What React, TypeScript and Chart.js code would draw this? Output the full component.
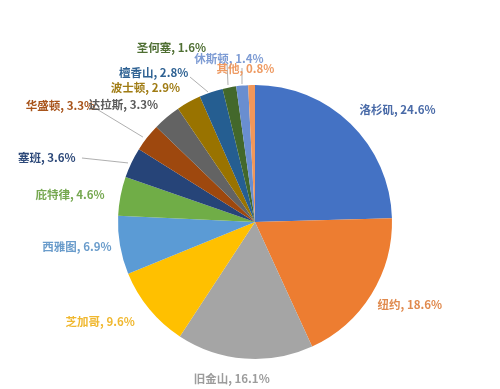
import React, { useEffect, useRef } from "react";
import { Chart, registerables } from "chart.js";

Chart.register(...registerables);

const cities = ["洛杉矶", "纽约", "旧金山", "芝加哥", "西雅图", "庇特律", "塞班", "华盛顿", "达拉斯", "波士顿", "檀香山", "圣何塞", "休斯顿", "其他"];
const shares = [24.6, 18.6, 16.1, 9.6, 6.9, 4.6, 3.6, 3.3, 3.3, 2.9, 2.8, 1.6, 1.4, 0.8];
const sliceColors = ["#4472C4", "#ED7D31", "#A5A5A5", "#FFC000", "#5B9BD5", "#70AD47", "#264478", "#9E480E", "#636363", "#997300", "#255E91", "#43682B", "#698ED0", "#F1975A"];
const textColors = ["#4A6BA8", "#E08A4E", "#9C9C9C", "#F0B830", "#6A9CCB", "#76A851", "#2E4A7A", "#A8541B", "#5A5A5A", "#A07C14", "#2F6293", "#4F6F33", "#7E9CD4", "#EE9A62"];
// label centre offsets, in units of pie radius from pie centre
const labelOffsets: [number, number][] = [
  [1.04, -0.82], [1.13, 0.6], [-0.17, 1.14], [-1.13, 0.73], [-1.3, 0.18], [-1.35, -0.2],
  [-1.52, -0.47], [-1.42, -0.85], [-0.96, -0.86], [-0.8, -0.98], [-0.74, -1.09], [-0.61, -1.27],
  [-0.19, -1.19], [-0.07, -1.12],
];
// leader lines [x1, y1, x2, y2] in radius units from pie centre; null = no line
const leaders: ([number, number, number, number] | null)[] = [
  null, null, null, null, null, null,
  [-1.263, -0.467, -0.927, -0.431], null, [-1.168, -0.832, -0.818, -0.62], null,
  [-0.474, -1.058, -0.343, -0.949], null, [-0.204, -1.16, -0.197, -1.0], [-0.095, -1.124, -0.095, -1.007],
];

const labelPlugin = {
  id: "cityLabels",
  afterDraw(chart: any) {
    const ctx = chart.ctx;
    const meta = chart.getDatasetMeta(0);
    ctx.save();
    ctx.font = "bold 11.5px 'Noto Sans CJK SC', sans-serif";
    ctx.textAlign = "center";
    ctx.textBaseline = "middle";
    meta.data.forEach((arc: any, i: number) => {
      const { x, y, outerRadius } = arc.getProps(["x", "y", "outerRadius"], true);
      const ld = leaders[i];
      if (ld) {
        ctx.strokeStyle = "#9a9a9a";
        ctx.lineWidth = 0.8;
        ctx.beginPath();
        ctx.moveTo(x + ld[0] * outerRadius, y + ld[1] * outerRadius);
        ctx.lineTo(x + ld[2] * outerRadius, y + ld[3] * outerRadius);
        ctx.stroke();
      }
      const [dx, dy] = labelOffsets[i];
      ctx.fillStyle = textColors[i];
      ctx.fillText(`${cities[i]}, ${shares[i]}%`, x + dx * outerRadius, y + dy * outerRadius);
    });
    ctx.restore();
  },
};

export default function App() {
  const ref = useRef<HTMLCanvasElement | null>(null);
  useEffect(() => {
    if (!ref.current) return;
    const chart = new Chart(ref.current, {
      type: "pie",
      data: {
        labels: cities,
        datasets: [{ data: shares, backgroundColor: sliceColors, borderWidth: 0 }],
      },
      options: {
        responsive: false,
        animation: false,
        layout: { padding: { top: 85, bottom: 30, left: 118, right: 108 } },
        plugins: { legend: { display: false }, tooltip: { enabled: false } },
      },
      plugins: [labelPlugin],
    });
    return () => chart.destroy();
  }, []);
  return (
    <div style={{ position: "fixed", left: 0, top: 0, width: 500, height: 389, background: "#fff" }}>
      <canvas ref={ref} width={500} height={389} />
    </div>
  );
}
